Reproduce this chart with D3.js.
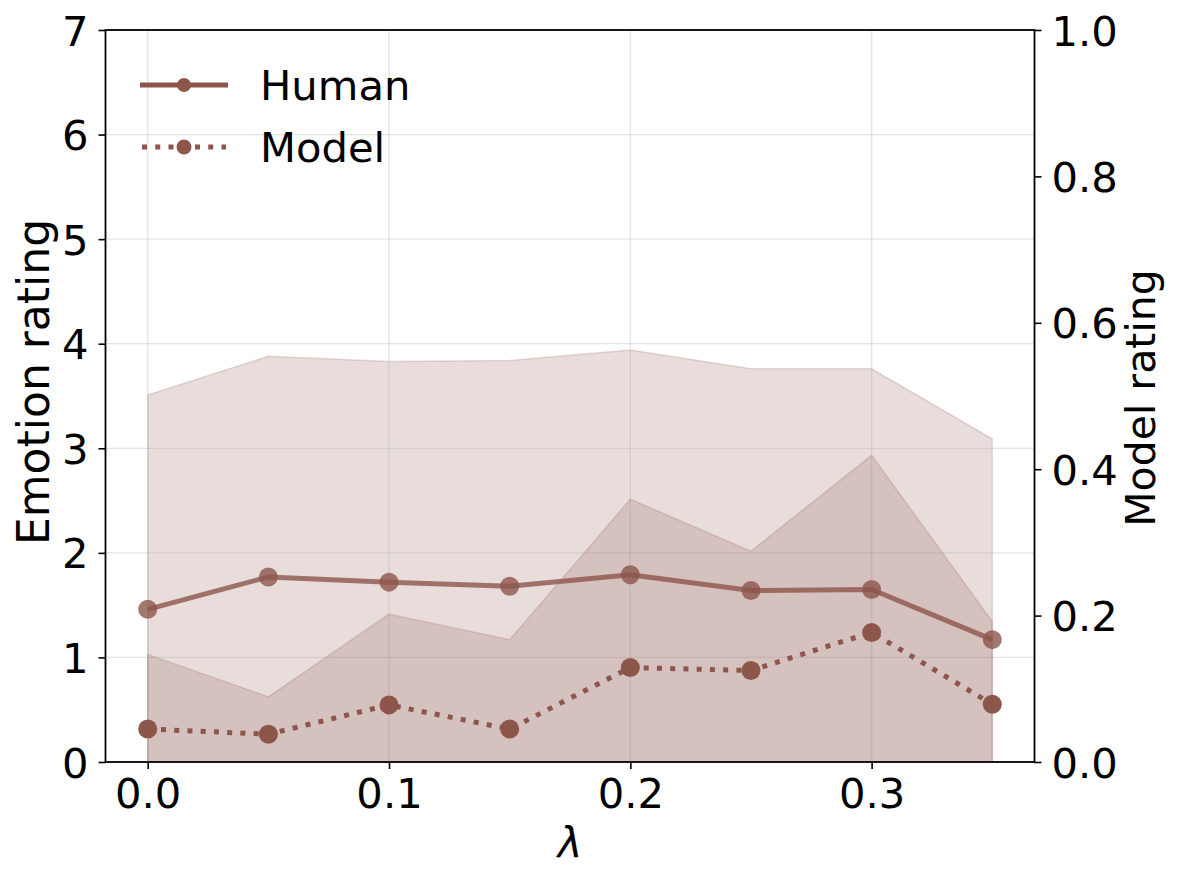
<!DOCTYPE html>
<html>
<head>
<meta charset="utf-8">
<script src="https://cdn.jsdelivr.net/npm/d3@7"></script>
<style>
  html, body { margin: 0; padding: 0; background: #fff; }
  svg { display: block; font-family: "DejaVu Sans", sans-serif; }
</style>
</head>
<body>
<svg id="chart" width="1181" height="881"></svg>
<script>
const lambdas    = [0, 0.05, 0.1, 0.15, 0.2, 0.25, 0.3, 0.35];
const humanMean  = [1.46, 1.77, 1.72, 1.68, 1.79, 1.64, 1.65, 1.17];
const humanUpper = [3.51, 3.88, 3.83, 3.84, 3.94, 3.76, 3.76, 3.09];
const humanLower = [-0.59, -0.35, -0.39, -0.49, -0.36, -0.48, -0.46, -0.74];
const modelMean  = [0.045, 0.038, 0.078, 0.045, 0.129, 0.125, 0.177, 0.079];
const modelUpper = [0.147, 0.089, 0.202, 0.167, 0.359, 0.288, 0.419, 0.192];
const modelLower = [-0.057, -0.013, -0.046, -0.077, -0.101, -0.038, -0.065, -0.034];
const xTicks = [0.0, 0.1, 0.2, 0.3];
const yLeftTicks = [0, 1, 2, 3, 4, 5, 6, 7];
const yRightTicks = [0.0, 0.2, 0.4, 0.6, 0.8, 1.0];
const seriesNames = ["Human", "Model"];

const color = "#8c564b";
const L = 105.5, R = 1034.5, T = 30, B = 762;
const svg = d3.select("#chart");

const x = d3.scaleLinear().domain([-0.0175, 0.3675]).range([L, R]);
const yL = d3.scaleLinear().domain([0, 7]).range([B, T]);
const yR = d3.scaleLinear().domain([0, 1]).range([B, T]);

svg.append("defs").append("clipPath").attr("id", "clip")
  .append("rect").attr("x", L).attr("y", T).attr("width", R - L).attr("height", B - T);

const plot = svg.append("g").attr("clip-path", "url(#clip)");

const idx = d3.range(lambdas.length);

// human band
const areaH = d3.area().x(i => x(lambdas[i])).y0(i => yL(humanLower[i])).y1(i => yL(humanUpper[i]));
plot.append("path").datum(idx).attr("d", areaH)
  .attr("fill", color).attr("fill-opacity", 0.2)
  .attr("stroke", color).attr("stroke-opacity", 0.2).attr("stroke-width", 1.5);

// grid
const grid = plot.append("g");
grid.selectAll("line.gx").data(xTicks).join("line")
  .attr("x1", d => x(d)).attr("x2", d => x(d)).attr("y1", T).attr("y2", B)
  .attr("stroke", "#b0b0b0").attr("stroke-opacity", 0.35).attr("stroke-width", 1.3);
grid.selectAll("line.gy").data(yLeftTicks).join("line")
  .attr("x1", L).attr("x2", R).attr("y1", d => yL(d)).attr("y2", d => yL(d))
  .attr("stroke", "#b0b0b0").attr("stroke-opacity", 0.35).attr("stroke-width", 1.3);

// human line
const lineH = d3.line().x(i => x(lambdas[i])).y(i => yL(humanMean[i]));
plot.append("path").datum(idx).attr("d", lineH)
  .attr("fill", "none").attr("stroke", color).attr("stroke-opacity", 0.8).attr("stroke-width", 5);
plot.selectAll("circle.h").data(idx).join("circle")
  .attr("cx", i => x(lambdas[i])).attr("cy", i => yL(humanMean[i])).attr("r", 9.5)
  .attr("fill", color).attr("fill-opacity", 0.8);

// model band
const areaM = d3.area().x(i => x(lambdas[i])).y0(i => yR(modelLower[i])).y1(i => yR(modelUpper[i]));
plot.append("path").datum(idx).attr("d", areaM)
  .attr("fill", color).attr("fill-opacity", 0.2)
  .attr("stroke", color).attr("stroke-opacity", 0.2).attr("stroke-width", 1.5);

// model line
const lineM = d3.line().x(i => x(lambdas[i])).y(i => yR(modelMean[i]));
plot.append("path").datum(idx).attr("d", lineM)
  .attr("fill", "none").attr("stroke", color).attr("stroke-width", 5)
  .attr("stroke-dasharray", "5,8.25");
plot.selectAll("circle.m").data(idx).join("circle")
  .attr("cx", i => x(lambdas[i])).attr("cy", i => yR(modelMean[i])).attr("r", 9.5)
  .attr("fill", color);

// axes
const fs = 41.7;
function styleAxis(g) {
  g.selectAll("path.domain").remove();
  g.selectAll(".tick line").attr("stroke", "#000").attr("stroke-width", 1.6);
  g.selectAll(".tick text").attr("fill", "#000").style("font-size", fs + "px")
    .style("font-family", "'DejaVu Sans', sans-serif");
}
const gx = svg.append("g").attr("transform", `translate(0,${B})`)
  .call(d3.axisBottom(x).tickValues(xTicks).tickFormat(d3.format(".1f")).tickSize(7).tickPadding(8));
styleAxis(gx);
gx.selectAll(".tick text").attr("dy", "0.71em").attr("y", 16);

const gl = svg.append("g").attr("transform", `translate(${L},0)`)
  .call(d3.axisLeft(yL).tickValues(yLeftTicks).tickFormat(d3.format("d")).tickSize(7).tickPadding(10));
styleAxis(gl);
gl.selectAll(".tick text").attr("dy", "0.36em");

const gr = svg.append("g").attr("transform", `translate(${R},0)`)
  .call(d3.axisRight(yR).tickValues(yRightTicks).tickFormat(d3.format(".1f")).tickSize(7).tickPadding(10));
styleAxis(gr);
gr.selectAll(".tick text").attr("dy", "0.36em");

// spines
svg.append("rect").attr("x", L).attr("y", T).attr("width", R - L).attr("height", B - T)
  .attr("fill", "none").attr("stroke", "#000").attr("stroke-width", 1.8);

// labels
svg.append("text").attr("x", (L + R) / 2).attr("y", 858).attr("text-anchor", "middle")
  .style("font-size", fs + "px").style("font-style", "italic").text("λ");
svg.append("text").attr("transform", `translate(49,${(T + B) / 2 - 14}) rotate(-90)`)
  .attr("text-anchor", "middle").style("font-size", "44px").text("Emotion rating");
svg.append("text").attr("transform", `translate(1155,${(T + B) / 2 + 2}) rotate(-90)`)
  .attr("text-anchor", "middle").style("font-size", "41px").text("Model rating");

// legend
const leg = svg.append("g");
const legY = [85, 147];
leg.append("line").attr("x1", 140).attr("x2", 228).attr("y1", legY[0]).attr("y2", legY[0])
  .attr("stroke", color).attr("stroke-width", 5);
leg.append("circle").attr("cx", 184).attr("cy", legY[0]).attr("r", 7).attr("fill", color);
leg.append("line").attr("x1", 142).attr("x2", 226).attr("y1", legY[1]).attr("y2", legY[1])
  .attr("stroke", color).attr("stroke-width", 5).attr("stroke-dasharray", "5,8.25");
leg.append("circle").attr("cx", 184).attr("cy", legY[1]).attr("r", 7.5).attr("fill", color);
leg.selectAll("text.lg").data(seriesNames).join("text")
  .attr("x", 260).attr("y", (d, i) => legY[i] + 15)
  .style("font-size", fs + "px").text(d => d);
</script>
</body>
</html>
